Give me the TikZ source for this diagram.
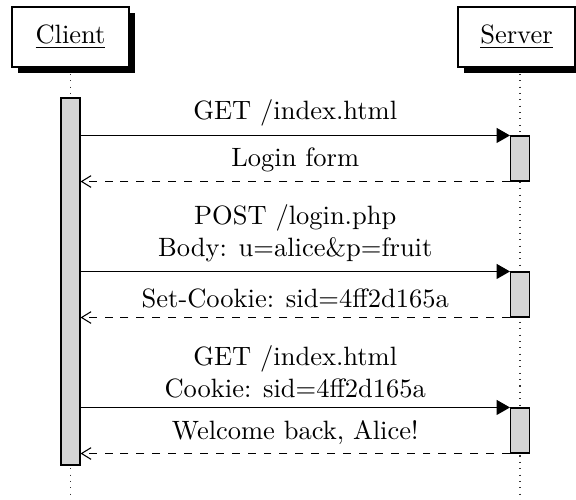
\documentclass[tikz,border=0pt]{standalone}
\usetikzlibrary{arrows.meta,shadows,calc,backgrounds}
\newcommand\pxu{0.3774pt}
\tikzset{
  inst/.style={rectangle, draw, fill=white, line width=0.4pt,
    minimum width=117*\pxu, minimum height=60*\pxu, inner sep=0pt,
    drop shadow={opacity=1, fill=black, shadow xshift=6*\pxu, shadow yshift=-6*\pxu}},
  actbar/.style={rectangle, draw, fill=black!17, line width=0.4pt,
    minimum width=19*\pxu, inner sep=0pt},
  lifeline/.style={dotted, line width=0.4pt, black!80},
  callmsg/.style={-{Triangle[length=5pt,width=5.6pt]}, line width=0.4pt},
  retmsg/.style={-{Straight Barb[length=3.6pt,width=4.4pt]}, dashed, line width=0.4pt},
  lbl/.style={above, align=center, inner sep=3.33pt}
}
\begin{document}
\begin{tikzpicture}[x=\pxu, y=-\pxu]
\useasboundingbox (0,0) rectangle (576,500);
% end points of lifelines
\coordinate (cend) at (70.5,500);
\coordinate (send) at (520,500);
% activation bars
\node[actbar, minimum height=367*\pxu] (cbar) at (70.5,281.5) {};
\node[actbar, minimum height=45*\pxu] (sbar1) at (520,158.5) {};
\node[actbar, minimum height=45*\pxu] (sbar2) at (520,294.5) {};
\node[actbar, minimum height=45*\pxu] (sbar3) at (520,430.5) {};
% instances
\node[inst] (client) at (70.5,37) {\underline{Client}};
\node[inst] (server) at (516.5,37) {\underline{Server}};
% lifelines (behind boxes and bars)
\begin{pgfonlayer}{background}
\draw[lifeline] (client.south) -- (cend);
\draw[lifeline] (sbar1 |- server.south) -- (send);
\end{pgfonlayer}
% messages
\draw[callmsg] (cbar.east |- sbar1.north) -- (sbar1.north west)
  node[lbl, midway] {GET /index.html};
\draw[retmsg] (sbar1.south west) -- (cbar.east |- sbar1.south)
  node[lbl, midway] {Login form};
\draw[callmsg] (cbar.east |- sbar2.north) -- (sbar2.north west)
  node[lbl, midway] {POST /login.php\\Body: u=alice\&p=fruit};
\draw[retmsg] (sbar2.south west) -- (cbar.east |- sbar2.south)
  node[lbl, midway] {Set-Cookie: sid=4ff2d165a};
\draw[callmsg] (cbar.east |- sbar3.north) -- (sbar3.north west)
  node[lbl, midway] {GET /index.html\\Cookie: sid=4ff2d165a};
\draw[retmsg] (sbar3.south west) -- (cbar.east |- sbar3.south)
  node[lbl, midway] {Welcome back, Alice!};
\end{tikzpicture}
\end{document}
